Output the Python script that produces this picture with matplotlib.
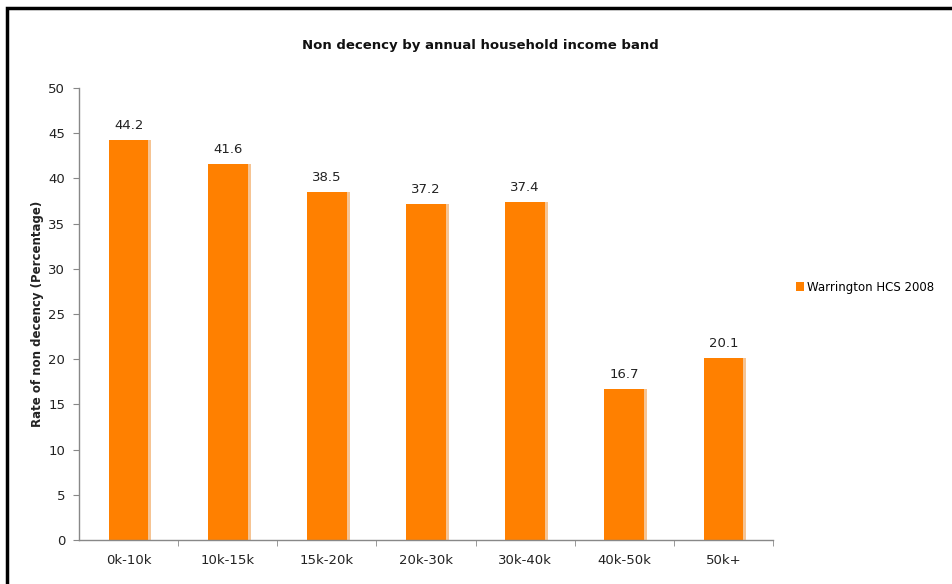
import matplotlib
matplotlib.use('agg')
import matplotlib.pyplot as plt
from matplotlib.patches import Rectangle

# income bands and rates of non decency (%)
bands = ['0k-10k', '10k-15k', '15k-20k', '20k-30k', '30k-40k', '40k-50k', '50k+']
rates = [44.2, 41.6, 38.5, 37.2, 37.4, 16.7, 20.1]
series_name = 'Warrington HCS 2008'
yticks = [0, 5, 10, 15, 20, 25, 30, 35, 40, 45, 50]

bar_col = '#ff8000'
shadow_col = '#f6c493'

fig = plt.figure(figsize=(9.52, 5.84), dpi=100)
ax = fig.add_axes([79 / 952, 44 / 584, 694 / 952, 452 / 584])

xs = list(range(len(bands)))
# soft shadow strip on the right edge of each bar
ax.bar([x + 0.03 for x in xs], rates, width=0.4, color=shadow_col, zorder=1)
bars = ax.bar(xs, rates, width=0.4, color=bar_col, zorder=2, label=series_name)

for x, v in zip(xs, rates):
    ax.text(x, v + 0.9, '%.1f' % v, ha='center', va='bottom', fontsize=9.5, color='#222222')

ax.set_xlim(-0.5, len(bands) - 0.5)
ax.set_ylim(0, 50)
ax.set_yticks(yticks)
ax.set_xticks(xs)
ax.set_xticklabels(bands)
ax.set_xticks([x + 0.5 for x in xs], minor=True)
ax.tick_params(axis='x', which='major', length=0, pad=10, labelsize=9.5, colors='#222222')
ax.tick_params(axis='x', which='minor', length=4, direction='out', color='#888888')
ax.tick_params(axis='y', length=4, direction='out', color='#888888', labelsize=9.5,
               labelcolor='#222222', pad=6)

for s in ['top', 'right']:
    ax.spines[s].set_visible(False)
for s in ['left', 'bottom']:
    ax.spines[s].set_color('#888888')
    ax.spines[s].set_linewidth(1)

ax.set_ylabel('Rate of non decency (Percentage)', fontsize=8.5, fontweight='bold',
              color='#222222', labelpad=3)

fig.text(480 / 952, 1 - 45 / 584, 'Non decency by annual household income band',
         ha='center', va='center', fontsize=9.5, fontweight='bold', color='#111111')

leg = fig.legend(handles=[bars], labels=[series_name], loc='center left',
                 bbox_to_anchor=(785 / 952, 1 - 287 / 584), frameon=False,
                 fontsize=8.5, handlelength=0.7, handleheight=0.7, handletextpad=0.3)

# black frame around the chart area
fig.patches.append(Rectangle((7 / 952, -0.01), 1.0, 1 - 8 / 584 + 0.01,
                             transform=fig.transFigure, fill=False,
                             edgecolor='black', linewidth=2.5))

fig.savefig('out.png', dpi=100)
